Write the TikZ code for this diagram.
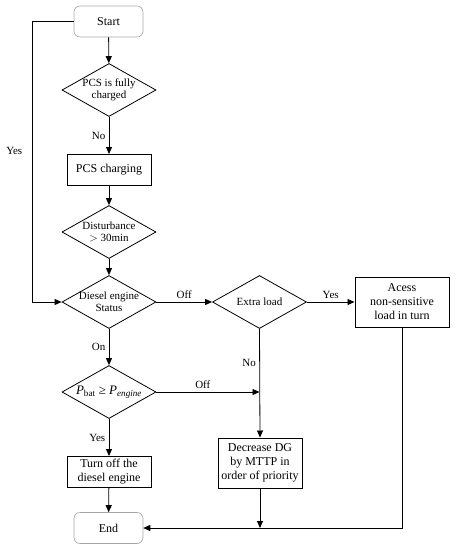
\documentclass[tikz,border=0pt]{standalone}
\usepackage{fontspec}
\setmainfont{Liberation Serif}
\usetikzlibrary{arrows.meta,shapes.geometric}
\tikzstyle{term}=[rectangle,rounded corners=6pt,draw=gray!70,line width=0.6pt,minimum width=69pt,minimum height=31pt,inner sep=0pt,font=\fontsize{12}{14}\selectfont]
\tikzstyle{proc}=[rectangle,draw,line width=1pt,minimum width=84pt,minimum height=31pt,inner sep=0pt,align=center,font=\fontsize{12}{14}\selectfont]
\tikzstyle{dec}=[diamond,draw,line width=0.8pt,minimum width=94pt,minimum height=53pt,inner sep=0pt,align=center,font=\fontsize{11}{12}\selectfont]
\tikzstyle{arr}=[-{Triangle[length=7pt,width=6pt]},draw,line width=0.8pt]
\tikzstyle{lbl}=[font=\fontsize{11}{12}\selectfont]
\newcommand{\ctr}[1]{\makebox[0pt][c]{#1}}

\begin{document}
\begin{tikzpicture}[x=1pt,y=1pt]
    \useasboundingbox (0,0) rectangle (456,-550);
    % main column
    \node[term] (start) at (108.5,-21.5) {Start};
    \node[dec] (full) at (109,-90) {\ctr{PCS is fully}\\\ctr{charged}};
    \node[proc] (charge) at (109,-170) {PCS charging};
    \node[dec] (dist) at (109,-232) {\ctr{Disturbance}\\\ctr{$>$ 30min}};
    \node[dec] (diesel) at (109,-302) {\ctr{Diesel engine}\\\ctr{Status}};
    \node[dec] (pbat) at (109,-392) {\ctr{\fontsize{13}{14}\selectfont\textit{P}\textsubscript{bat} ≥ \textit{P}\textsubscript{\textit{engine}}}};
    \node[proc] (turnoff) at (109,-472) {Turn off the\\diesel engine};
    \node[term] (end) at (108.5,-528) {End};
    % right part
    \node[dec] (extra) at (259.5,-302) {\ctr{Extra load}};
    \node[proc,minimum width=94pt,minimum height=50pt] (acess) at (402,-302) {Acess\\non-sensitive\\load in turn};
    \node[proc,minimum height=50pt] (decr) at (260,-463) {Decrease DG\\by MTTP in\\order of priority};
    \coordinate (yesc) at (32,-21.5);
    \coordinate (offj) at (extra.south |- pbat.east);
    \coordinate (mrgd) at (decr.south |- end.east);

    \draw[arr] (start) -- (full);
    \draw[arr] (full) -- node[lbl,left] {No} (charge);
    \draw[arr] (charge) -- (dist);
    \draw[arr] (dist) -- (diesel);
    \draw[arr] (start.west) -- (yesc) |- node[lbl,pos=0.23,left=6pt] {Yes} (diesel.west);
    \draw[arr] (diesel) -- node[lbl,above] {Off} (extra);
    \draw[arr] (extra) -- node[lbl,above] {Yes} (acess);
    \draw[arr] (diesel) -- node[lbl,left] {On} (pbat);
    \draw[arr] (extra.south) -- node[lbl,pos=0.31,left] {No} (decr.north);
    \draw[arr] (pbat.east) -- node[lbl,above,pos=0.45] {Off} (offj);
    \draw[arr] (pbat) -- node[lbl,left] {Yes} (turnoff);
    \draw[arr] (turnoff) -- (end);
    \draw[arr] (acess.south) |- (end.east);
    \draw[arr] (decr.south) -- (mrgd);
\end{tikzpicture}
\end{document}
